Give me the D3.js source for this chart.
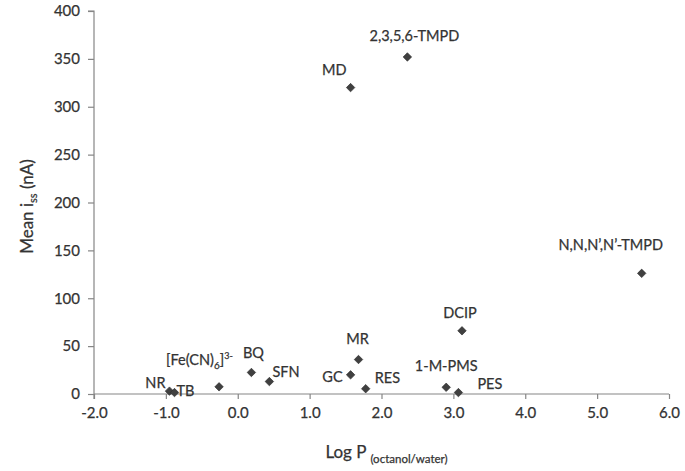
<!DOCTYPE html>
<html>
<head>
<meta charset="utf-8">
<script src="https://cdn.jsdelivr.net/npm/d3@7/dist/d3.min.js"></script>
<style>
  html, body { margin: 0; padding: 0; background: #fff; }
  svg { display: block; }
  text { font-family: Lato, "Open Sans", sans-serif; fill: #333; stroke: #333; stroke-width: 0.25px; }
</style>
</head>
<body>
<svg id="chart" width="685" height="471"></svg>
<script>
// ---- data ----
const compounds = ["NR", "TB", "[Fe(CN)6]3-", "BQ", "SFN", "GC", "MR", "RES", "1-M-PMS", "PES", "DCIP", "MD", "2,3,5,6-TMPD", "N,N,N\u2019,N\u2019-TMPD"];
const logP =      [-0.95, -0.88, -0.26, 0.19, 0.44, 1.57, 1.68, 1.78, 2.90, 3.07, 3.12, 1.57, 2.36, 5.62];
const meanIss =   [3, 1.5, 7.5, 22.5, 13, 20, 36, 5.5, 7, 1.5, 66, 320, 352, 126];
const xTicks = [-2, -1, 0, 1, 2, 3, 4, 5, 6];
const yTicks = [0, 50, 100, 150, 200, 250, 300, 350, 400];

// ---- label layout (pixel offsets from marker, styling only) ----
const labelLayout = {
  "NR": {anchor: "end", dx: -4, dy: -3},
  "TB": {anchor: "start", dx: 2, dy: 3},
  "[Fe(CN)6]3-": {anchor: "start", dx: -53, dy: -22},
  "BQ": {anchor: "middle", dx: 2, dy: -14},
  "SFN": {anchor: "start", dx: 3, dy: -5},
  "GC": {anchor: "end", dx: -8, dy: 7},
  "MR": {anchor: "middle", dx: -1, dy: -16},
  "RES": {anchor: "start", dx: 9, dy: -6},
  "1-M-PMS": {anchor: "middle", dx: 0, dy: -16},
  "PES": {anchor: "start", dx: 19, dy: -4},
  "DCIP": {anchor: "middle", dx: -2, dy: -13},
  "MD": {anchor: "end", dx: -4, dy: -13},
  "2,3,5,6-TMPD": {anchor: "middle", dx: 7, dy: -16},
  "N,N,N\u2019,N\u2019-TMPD": {anchor: "middle", dx: -31, dy: -23}
};

const svg = d3.select("#chart");
const axisColor = "#868686";
const markColor = "#404040";

const x = d3.scaleLinear().domain([-2, 6]).range([94, 669]);
const y = d3.scaleLinear().domain([0, 400]).range([394, 11]);

const fmtX = v => d3.format(".1f")(v).replace("\u2212", "-");

// x axis
const xAxis = svg.append("g")
  .attr("transform", `translate(0,${y(0)})`)
  .call(d3.axisBottom(x).tickValues(xTicks).tickFormat(fmtX).tickSize(5).tickPadding(8));
// y axis
const yAxis = svg.append("g")
  .attr("transform", `translate(${x(-2)},0)`)
  .call(d3.axisLeft(y).tickValues(yTicks).tickSize(6).tickPadding(8));

[xAxis, yAxis].forEach(g => {
  g.select(".domain").attr("stroke", axisColor).attr("stroke-width", 1.2);
  g.selectAll(".tick line").attr("stroke", axisColor).attr("stroke-width", 1.2);
  g.selectAll(".tick text").attr("fill", "#333")
    .style("font-family", "Lato, 'Open Sans', sans-serif").style("font-size", "15px");
});
xAxis.select(".domain").attr("d", `M${x(-2)},0H${x(6)}`);
yAxis.select(".domain").attr("d", `M-6,${y(400)}H0V${y(0) + 5}`);

// markers
const data = compounds.map((c, i) => ({name: c, lp: logP[i], v: meanIss[i]}));
svg.append("g").selectAll("path").data(data).join("path")
  .attr("d", d3.symbol().type(d3.symbolSquare).size(36))
  .attr("transform", d => `translate(${x(d.lp)},${y(d.v)}) rotate(45)`)
  .attr("fill", markColor)
  .attr("stroke", "#2a2a2a").attr("stroke-width", 0.6);

// labels
const lbl = svg.append("g").selectAll("text").data(data).join("text")
  .attr("x", d => x(d.lp) + labelLayout[d.name].dx)
  .attr("y", d => y(d.v) + labelLayout[d.name].dy)
  .attr("text-anchor", d => labelLayout[d.name].anchor)
  .style("font-size", "14.5px");
lbl.each(function(d) {
  const t = d3.select(this);
  if (d.name === "[Fe(CN)6]3-") {
    t.append("tspan").text("[Fe(CN)");
    t.append("tspan").text("6").attr("dy", 4).style("font-size", "10px");
    t.append("tspan").text("]").attr("dy", -4);
    t.append("tspan").text("3-").attr("dy", -6).style("font-size", "9px");
  } else {
    t.text(d.name);
  }
});

// y title
const yt = svg.append("text")
  .attr("transform", `translate(33,${(y(0) + y(400)) / 2 + 4}) rotate(-90)`)
  .attr("text-anchor", "middle")
  .style("font-size", "17px");
yt.append("tspan").text("Mean i");
yt.append("tspan").text("ss").attr("dy", 4).style("font-size", "11px");
yt.append("tspan").text(" (nA)").attr("dy", -4);

// x title
const xt = svg.append("text")
  .attr("x", (x(-2) + x(6)) / 2 + 5)
  .attr("y", 458)
  .attr("text-anchor", "middle")
  .style("font-size", "17px");
xt.append("tspan").text("Log P ");
xt.append("tspan").text("(octanol/water)").attr("dy", 5).style("font-size", "11.5px");
</script>
</body>
</html>
